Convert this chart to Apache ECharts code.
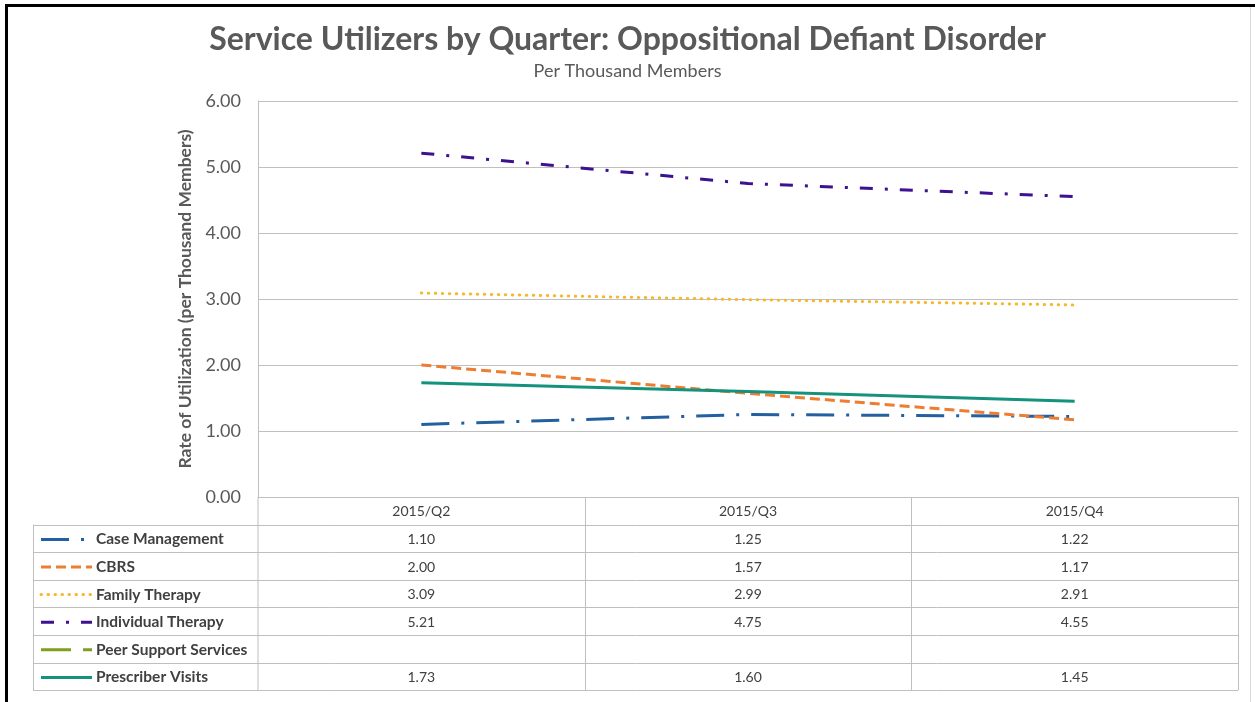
<!DOCTYPE html>
<html>
<head>
<meta charset="utf-8">
<script src="https://cdn.jsdelivr.net/npm/echarts@6/dist/echarts.min.js"></script>
<style>
  html, body {margin: 0; padding: 0; background: #fff;}
  #chart {width: 1255px; height: 702px;}
</style>
</head>
<body>
<div id="chart"></div>
<script>
  let quarters = ['2015/Q2', '2015/Q3', '2015/Q4'];
  let yTicks = [0, 1, 2, 3, 4, 5, 6];

  let caseManagement = [1.10, 1.25, 1.22];
  let cbrs = [2.00, 1.57, 1.17];
  let familyTherapy = [3.09, 2.99, 2.91];
  let individualTherapy = [5.21, 4.75, 4.55];
  let peerSupport = [null, null, null];
  let prescriberVisits = [1.73, 1.60, 1.45];

  let seriesNames = ['Case Management', 'CBRS', 'Family Therapy', 'Individual Therapy', 'Peer Support Services', 'Prescriber Visits'];
  let seriesData = [caseManagement, cbrs, familyTherapy, individualTherapy, peerSupport, prescriberVisits];
  let seriesColors = ['#24609f', '#ed7d31', '#f5b82e', '#3d1190', '#7f9f1f', '#14927c'];
  let seriesDash = [[28, 12, 3, 12], [10, 5], [0.5, 6.5], [13, 12, 3, 12], [30, 12], 'solid'];

  let font = 'Lato, "Open Sans", sans-serif';
  let textGray = '#595959';
  let tableText = '#404040';
  let gridColor = '#bfbfbf';

  let gridLeft = 258, gridRight = 1238, gridTop = 101, gridBottom = 497;
  let rowH = 27.6;

  let chart = echarts.init(document.getElementById('chart'), null, {renderer: 'canvas'});

  let option = {
    backgroundColor: '#fff',
    animation: false,
    title: {
      text: 'Service Utilizers by Quarter: Oppositional Defiant Disorder',
      subtext: 'Per Thousand Members',
      left: 'center', top: 19, itemGap: 6,
      textStyle: {fontFamily: font, fontSize: 32, fontWeight: 'bold', color: textGray},
      subtextStyle: {fontFamily: font, fontSize: 18, color: textGray}
    },
    grid: {left: gridLeft, right: 1255 - gridRight, top: gridTop, bottom: 702 - gridBottom},
    xAxis: {
      type: 'category', data: quarters, boundaryGap: true,
      axisLine: {show: false}, axisTick: {show: false}, axisLabel: {show: false}
    },
    yAxis: {
      type: 'value', min: yTicks[0], max: yTicks[yTicks.length - 1], interval: 1,
      name: 'Rate of Utilization (per Thousand Members)',
      nameLocation: 'middle', nameGap: 62,
      nameTextStyle: {fontFamily: font, fontSize: 17.5, fontWeight: 700, color: textGray},
      axisLine: {show: true, lineStyle: {color: gridColor, width: 1}},
      axisTick: {show: false},
      axisLabel: {fontFamily: font, fontSize: 18, color: textGray, margin: 17,
        formatter: function(v){ return v.toFixed(2); }},
      splitLine: {lineStyle: {color: gridColor, width: 1}}
    },
    series: seriesNames.map(function(name, i){
      return {
        name: name, type: 'line', data: seriesData[i],
        symbol: 'none', connectNulls: false,
        lineStyle: {color: seriesColors[i], width: 3, type: seriesDash[i], cap: i == 2 ? 'round' : 'butt'}
      };
    })
  };

  chart.setOption(option);

  // data table under the plot, built from the same arrays
  let tableLeft = 33;
  let colEdges = [gridLeft];
  quarters.forEach(function(q, i){
    let c = chart.convertToPixel({xAxisIndex: 0}, i);
    let next = i < quarters.length - 1 ? (c + chart.convertToPixel({xAxisIndex: 0}, i + 1)) / 2 : gridRight;
    colEdges.push(Math.round(next) + 0.5);
  });
  let tableBottom = gridBottom + rowH * (seriesNames.length + 1);
  let lineStyle = {stroke: gridColor, lineWidth: 1};
  let graphics = [];

  // horizontal rules
  for (let r = 0; r <= seriesNames.length + 1; r++) {
    let y = Math.round(gridBottom + rowH * r) + 0.5;
    graphics.push({type: 'line', shape: {x1: r == 0 ? gridLeft : tableLeft, y1: y, x2: gridRight, y2: y}, style: lineStyle, silent: true});
  }
  // vertical rules
  graphics.push({type: 'line', shape: {x1: tableLeft + 0.5, y1: gridBottom + rowH, x2: tableLeft + 0.5, y2: tableBottom}, style: lineStyle});
  colEdges.forEach(function(x){
    graphics.push({type: 'line', shape: {x1: x, y1: gridBottom, x2: x, y2: tableBottom}, style: lineStyle});
  });

  // header
  quarters.forEach(function(q, i){
    graphics.push({type: 'text', x: chart.convertToPixel({xAxisIndex: 0}, i), y: gridBottom + rowH / 2 + 1,
      style: {text: q, fill: tableText, font: '14px ' + font, align: 'center', verticalAlign: 'middle'}});
  });

  // rows: legend key + values
  seriesNames.forEach(function(name, r){
    let yc = gridBottom + rowH * (r + 1.5) + 1;
    let dash = seriesDash[r] == 'solid' ? null : seriesDash[r];
    graphics.push({type: 'line', shape: {x1: 41, y1: yc, x2: 92, y2: yc},
      style: {stroke: seriesColors[r], lineWidth: 3, lineDash: dash, lineCap: r == 2 ? 'round' : 'butt'}});
    graphics.push({type: 'text', x: 96, y: yc,
      style: {text: name, fill: tableText, font: 'bold 15.5px ' + font, verticalAlign: 'middle'}});
    seriesData[r].forEach(function(v, i){
      if (v == null) return;
      graphics.push({type: 'text', x: chart.convertToPixel({xAxisIndex: 0}, i), y: yc,
        style: {text: v.toFixed(2), fill: tableText, font: '14px ' + font, align: 'center', verticalAlign: 'middle'}});
    });
  });

  // frame of the original screenshot
  graphics.push({type: 'rect', shape: {x: 5, y: 4, width: 1252, height: 3}, style: {fill: '#000'}});
  graphics.push({type: 'rect', shape: {x: 5, y: 4, width: 3, height: 700}, style: {fill: '#000'}});
  graphics.push({type: 'line', shape: {x1: 1250.5, y1: 7, x2: 1250.5, y2: 702}, style: {stroke: '#d9d9d9', lineWidth: 1}});

  chart.setOption({graphic: graphics});
</script>
</body>
</html>
